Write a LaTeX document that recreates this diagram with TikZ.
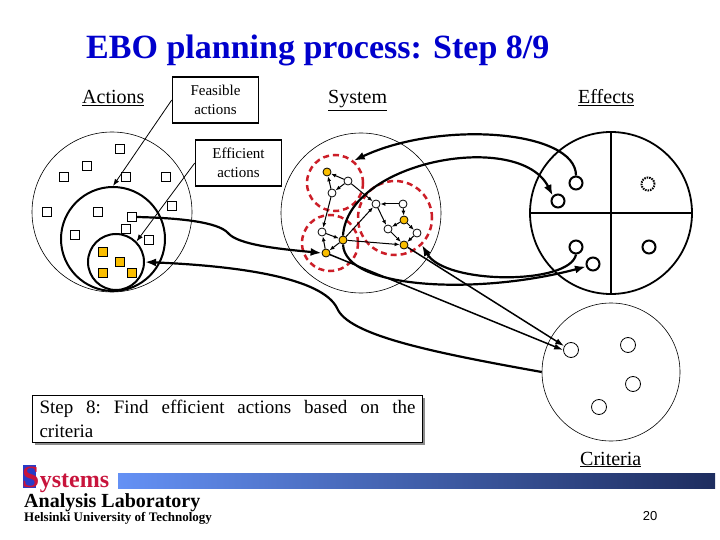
\documentclass[tikz,border=0pt]{standalone}
\usepackage{fontspec}
\setmainfont{Liberation Serif}
\setsansfont{Liberation Sans}
\usetikzlibrary{arrows.meta,shadows}
\definecolor{titleblue}{RGB}{0, 0, 204}
\definecolor{nodegold}{RGB}{250, 190, 0}
\definecolor{ringred}{RGB}{204, 30, 40}
\definecolor{logored}{RGB}{200, 20, 60}
\definecolor{logoblue}{RGB}{40, 60, 200}
\definecolor{barlight}{RGB}{100, 145, 245}
\definecolor{bardark}{RGB}{30, 45, 95}
\tikzset{
 heading/.style={
 anchor=base west,
 inner sep=0pt,
 font=\fontsize{20}{24}\selectfont
 },
 setring/.style={
 circle,
 draw,
 inner sep=0pt,
 line width=0.6pt
 },
 boldring/.style={setring, line width=2pt},
 subring/.style={
 circle,
 draw=ringred,
 dash pattern=on 6pt off 4pt,
 line width=2.5pt,
 inner sep=0pt
 },
 action/.style={
 rectangle,
 draw,
 fill=white,
 line width=0.7pt,
 minimum size=9pt,
 inner sep=0pt
 },
 goodaction/.style={action, fill=nodegold},
 sysnode/.style={
 circle,
 draw,
 fill=white,
 line width=0.8pt,
 minimum size=8pt,
 inner sep=0pt
 },
 keynode/.style={sysnode, fill=nodegold},
 effect/.style={
 circle,
 draw,
 line width=2pt,
 minimum size=13pt,
 inner sep=0pt
 },
 crit/.style={
 circle,
 draw,
 line width=0.8pt,
 minimum size=15pt,
 inner sep=0pt
 },
 labelbox/.style={
 rectangle,
 draw,
 line width=1.5pt,
 align=center,
 minimum width=86pt,
 minimum height=46pt,
 font=\fontsize{15}{19}\selectfont
 },
 stepbox/.style={
 rectangle,
 draw,
 fill=white,
 line width=1pt,
 text width=376pt,
 align=justify,
 inner xsep=7pt,
 inner ysep=5pt,
 font=\fontsize{19}{24}\selectfont\frenchspacing,
 drop shadow={shadow xshift=2.5pt, shadow yshift=-2.5pt, fill=black!45, opacity=1}
 },
 pointer/.style={-{Latex[length=7pt,width=5pt]}, line width=0.8pt},
 sysedge/.style={-{Latex[length=5pt,width=4pt]}, line width=1pt},
 link/.style={-{Latex[length=11pt,width=8pt]}, line width=2.2pt},
 critlink/.style={-{Latex[length=9pt,width=6pt]}, line width=1.5pt}
}
\begin{document}
\begin{tikzpicture}[x=1pt,y=-1pt]
 \useasboundingbox (0,0) rectangle (720,540);

 % title and headings
 \node[anchor=base west, inner sep=0pt, text=titleblue,
 font=\fontsize{34}{40}\selectfont\bfseries] (title) at (86,59) {EBO planning process: Step 8/9};
 \node[heading] (hactions) at (82,104) {\underline{Actions}};
 \node[heading] (hsystem) at (328,104) {\underline{System}};
 \node[heading] (heffects) at (578,104) {\underline{Effects}};
 \node[heading] (hcriteria) at (580,465) {\underline{Criteria}};

 % actions
 \node[setring, minimum size=160pt] (actall) at (112,212) {};
 \node[boldring, minimum size=104pt] (actfeas) at (113,239) {};
 \node[boldring, minimum size=56pt] (acteff) at (116,262) {};
 \foreach \n/\x/\y in {1/120/149, 2/87/166, 3/64/177, 4/126/177, 5/166/177, 6/47/212,
 7/98/212, 8/172/206, 9/132/217, 10/126/229, 11/75/235, 12/149/240}
 \node[action] (a\n) at (\x,\y) {};
 \foreach \n/\x/\y in {1/103/252, 2/120/262, 3/103/273, 4/132/273}
 \node[goodaction] (b\n) at (\x,\y) {};

 \node[labelbox] (feasbox) at (215.5,100) {Feasible\\actions};
 \node[labelbox] (effbox) at (238.5,163) {Efficient\\actions};
 \draw[pointer] (feasbox.west) -- (actfeas.north);
 \draw[pointer] (effbox.west) -- (acteff.45);

 % system
 \node[setring, minimum size=160pt] (system) at (361,213) {};
 \node[subring, minimum size=56pt] (ringA) at (335,183) {};
 \node[subring, minimum size=56pt] (ringB) at (330,243) {};
 \node[subring, minimum size=74pt] (ringC) at (395,218) {};

 \node[keynode] (g1) at (327,172) {};
 \node[sysnode] (w1) at (348,181) {};
 \node[sysnode] (w2) at (332,193) {};
 \node[sysnode] (w3) at (376,204) {};
 \node[sysnode] (w4) at (403,204) {};
 \node[keynode] (g2) at (404,220) {};
 \node[sysnode] (w5) at (388,229) {};
 \node[sysnode] (w6) at (417,233) {};
 \node[keynode] (g3) at (404,245) {};
 \node[sysnode] (w7) at (322,232) {};
 \node[keynode] (g4) at (343,240) {};
 \node[keynode] (g5) at (326,253) {};
 \foreach \s/\t in {w1/g1, w2/g1, w1/w2, w1/w3, w4/w3, w4/g2, g2/w5, w3/w5, g2/w6,
 w6/g3, w5/g3, g4/g3, g4/w3, w7/g4, w2/w7, g5/w7, g4/g5}
 \draw[sysedge] (\s) -- (\t);

 % effects
 \node[setring, line width=1.8pt, minimum size=162pt] (effects) at (611,213) {};
 \draw[line width=1.8pt] (effects.north) -- (effects.south);
 \draw[line width=1.8pt] (effects.west) -- (effects.east);
 \node[effect] (e1) at (576,183) {};
 \node[effect] (e2) at (558,201) {};
 \node[effect, dash pattern=on 1.5pt off 1pt] (e3) at (648,184) {};
 \node[effect] (e4) at (576,247) {};
 \node[effect] (e5) at (593,264) {};
 \node[effect] (e6) at (649,247) {};

 % criteria
 \node[setring, minimum size=138pt] (criteria) at (611,372) {};
 \node[crit] (c1) at (571,350) {};
 \node[crit] (c2) at (628,345) {};
 \node[crit] (c3) at (633,384) {};
 \node[crit] (c4) at (599,407) {};

 % links
 \draw[link] (e1.north) .. controls (576,130) and (440,120) .. (ringA.50);
 \draw[link] (g4.north) .. controls (348,160) and (520,130) .. (e2.north west);
 \draw[link] (g4.south) .. controls (345,290) and (480,295) .. (e5.200);
 \draw[link] (e4.south) .. controls (570,285) and (445,285) .. (ringC.-45);
 \draw[critlink] (g3) -- (c1.150);
 \draw[critlink] (g5) -- (c1.west);
 \draw[link] (criteria.west) .. controls (430,352) and (348,335) .. (337,308)
 .. controls (322,278) and (240,266) .. (acteff.east);
 \draw[link] (a9.east) .. controls (180,218) and (218,222) .. (228,233)
 .. controls (238,245) and (280,249) .. (g5.west);

 % step note
 \node[stepbox] (stepnote) at (227.5,419) {Step 8: Find efficient actions based on the\linebreak criteria};

 % logo and page number
 \fill[logoblue] (23,465) rectangle (36,488);
 \node[anchor=base west, inner sep=0pt, text=logored,
 font=\fontsize{31}{34}\selectfont\bfseries] (logoS) at (22,487) {S};
 \node[anchor=base west, inner sep=0pt, text=logored,
 font=\fontsize{24}{28}\selectfont\bfseries] (logorest) at (logoS.base east) {ystems};
 \shade[left color=barlight, right color=bardark] (118,473) rectangle (715,488);
 \node[anchor=base west, inner sep=0pt, font=\fontsize{20}{24}\selectfont\bfseries] (lab) at (24,507) {Analysis Laboratory};
 \node[anchor=base west, inner sep=0pt, font=\fontsize{13}{15}\selectfont\bfseries] (uni) at (24,521) {Helsinki University of Technology};
 \node[anchor=base, inner sep=0pt, font=\fontsize{13}{15}\selectfont\sffamily] (pageno) at (650,520) {20};
\end{tikzpicture}
\end{document}
